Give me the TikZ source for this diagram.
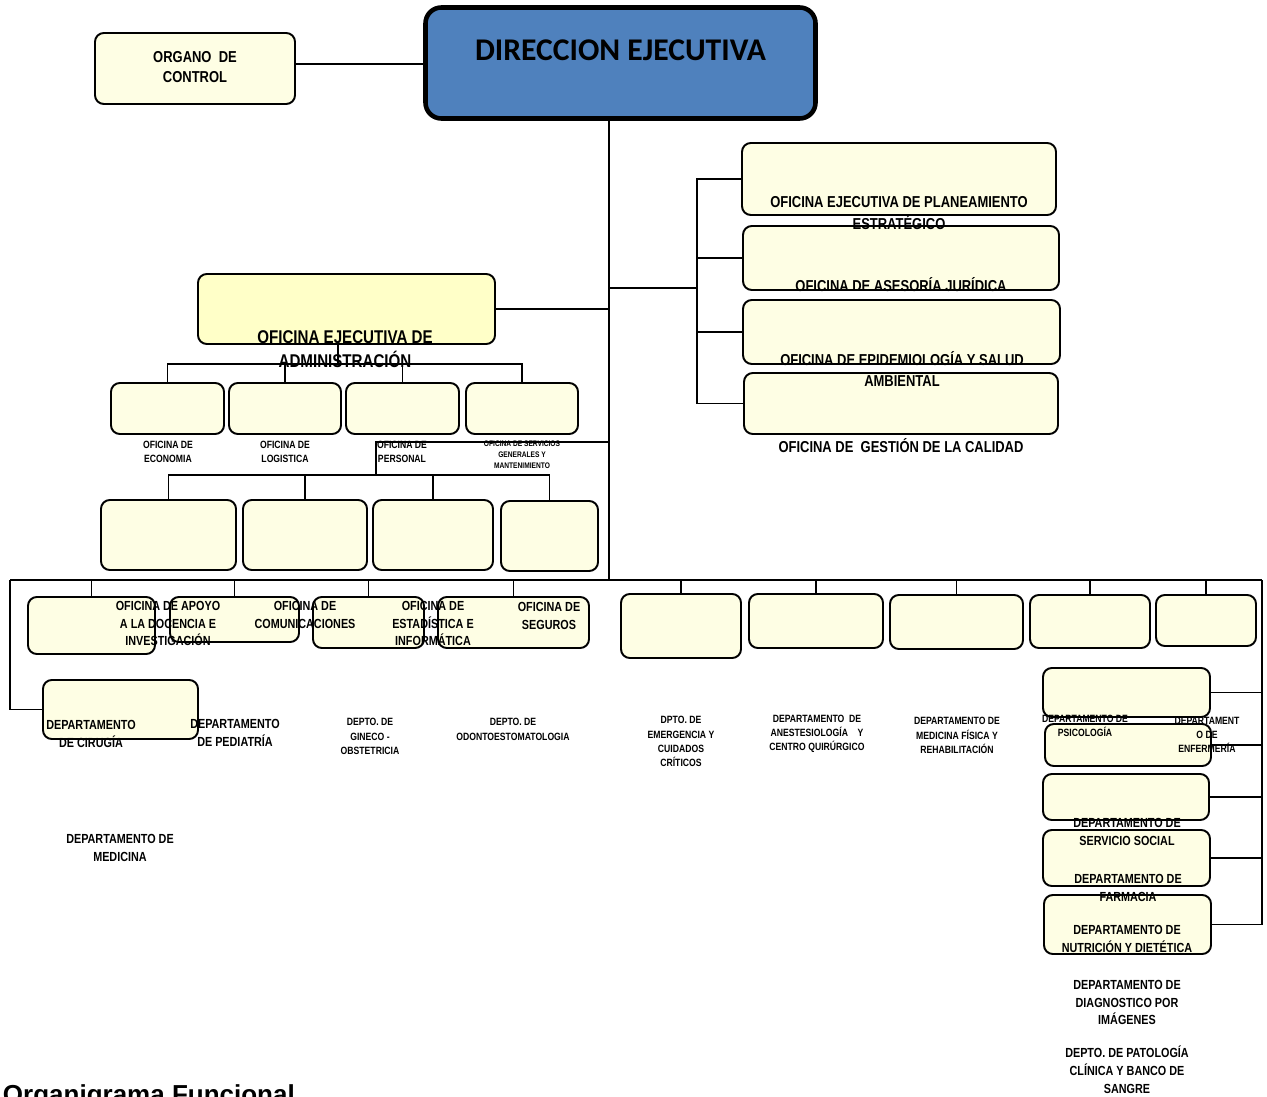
\documentclass[tikz,border=0pt]{standalone}
\usepackage{fontspec}
\setmainfont{Liberation Sans}
\newfontfamily\narrowsf[FakeStretch=0.82]{Liberation Sans}
\newfontfamily\calibri{Carlito}
\usetikzlibrary{positioning}
\newdimen\px \px=0.02cm
\definecolor{cream}{HTML}{FEFEE4}
\definecolor{paleyel}{HTML}{FFFFC8}
\definecolor{dirblue}{HTML}{4F81BD}
\tikzset{
  box/.style={draw, line width=1.1pt, rounded corners=5pt, fill=cream, inner sep=0pt},
  lbl/.style 2 args={font=\narrowsf\bfseries\fontsize{#1}{#2}\selectfont, align=center, inner sep=0pt},
}

\begin{document}
\begin{tikzpicture}[x=0.02cm, y=-0.02cm, line width=1.1pt]
  \useasboundingbox (0,0) rectangle (1267,1097);

  % direccion y organo de control
  \node[box, minimum width=200\px, minimum height=71\px] (oc) at (195,68.5) {};
  \node[box, fill=dirblue, line width=2.6pt, rounded corners=9pt, minimum width=390\px, minimum height=111\px] (dir) at (620.5,63) {};
  \coordinate (trunk) at (609,580);
  \coordinate (bl) at (10,580);
  \coordinate (br) at (1262,580);
  \draw ([yshift=4.5\px]oc.east) -- ([yshift=4.5\px]oc.east -| dir.west);
  \draw (trunk |- dir.south) -- (trunk);
  \draw (bl) -- (br);

  % oficinas de asesoria
  \node[box, minimum width=314\px, minimum height=72\px] (pe) at (899,179) {};
  \node[box, minimum width=316\px, minimum height=64\px] (aj) at (901,258) {};
  \node[box, minimum width=317\px, minimum height=64\px] (ep) at (901.5,332) {};
  \node[box, minimum width=314\px, minimum height=61\px] (gc) at (901,403.5) {};
  \coordinate (rb) at (697,288);
  \draw (pe.west) -- (pe.west -| rb) -- (gc.west -| rb) -- (gc.west);
  \draw (aj.west) -- (aj.west -| rb);
  \draw (ep.west) -- (ep.west -| rb);
  \draw (rb) -- (rb -| trunk);

  % administracion
  \node[box, fill=paleyel, minimum width=297\px, minimum height=70\px] (oea) at (346.5,309) {};
  \node[box, minimum width=113\px, minimum height=51\px] (e1) at (167.5,408.5) {};
  \node[box, minimum width=112\px, minimum height=51\px] (e2) at (285,408.5) {};
  \node[box, minimum width=113\px, minimum height=51\px] (e3) at (402.5,408.5) {};
  \node[box, minimum width=112\px, minimum height=51\px] (e4) at (522,408.5) {};
  \coordinate (ab) at (338,364);
  \draw (oea.east) -- (oea.east -| trunk);
  \draw (ab |- oea.south) -- (ab);
  \draw (e1.north) -- (e1.north |- ab) -- (e4.north |- ab) -- (e4.north);
  \draw (e2.north) -- (e2.north |- ab);
  \draw (e3.north) -- (e3.north |- ab);

  \node[box, minimum width=135\px, minimum height=70\px] (f1) at (168.5,535) {};
  \node[box, minimum width=124\px, minimum height=70\px] (f2) at (305,535) {};
  \node[box, minimum width=120\px, minimum height=70\px] (f3) at (433,535) {};
  \node[box, minimum width=97\px, minimum height=70\px] (f4) at (549.5,536) {};
  \coordinate (pj) at (376,442);
  \coordinate (pb) at (376,475);
  \draw (pj -| trunk) -- (pj) -- (pb);
  \draw (f1.north) -- (f1.north |- pb) -- (f4.north |- pb) -- (f4.north);
  \draw (f2.north) -- (f2.north |- pb);
  \draw (f3.north) -- (f3.north |- pb);

  % linea de departamentos
  \node[box, minimum width=127\px, minimum height=57\px] (g1) at (91.5,625.5) {};
  \node[box, minimum width=129\px, minimum height=45\px] (g2) at (234.5,619.5) {};
  \node[box, minimum width=111\px, minimum height=51\px] (g3) at (368.5,622.5) {};
  \node[box, minimum width=151\px, minimum height=51\px] (g4) at (513.5,622.5) {};
  \node[box, minimum width=120\px, minimum height=64\px] (g5) at (681,626) {};
  \node[box, minimum width=134\px, minimum height=54\px] (g6) at (816,621) {};
  \node[box, minimum width=133\px, minimum height=54\px] (g7) at (956.5,622) {};
  \node[box, minimum width=120\px, minimum height=53\px] (g8) at (1090,621.5) {};
  \node[box, minimum width=100\px, minimum height=51\px] (g9) at (1206,620.5) {};
  \foreach \n in {g1,g2,g3,g4,g5,g6,g7,g8,g9}
    \draw (\n.north) -- (\n.north |- bl);

  \node[box, minimum width=155\px, minimum height=59\px] (cir) at (120.5,709.5) {};
  \draw (bl) |- (cir.west);

  \node[box, minimum width=167\px, minimum height=49\px] (h1) at (1126.5,692.5) {};
  \node[box, minimum width=166\px, minimum height=42\px] (h2) at (1128,745) {};
  \node[box, minimum width=166\px, minimum height=46\px] (h3) at (1126,797) {};
  \node[box, minimum width=167\px, minimum height=56\px] (h4) at (1126.5,858) {};
  \node[box, minimum width=167\px, minimum height=59\px] (h5) at (1127.5,924.5) {};
  \draw (br) |- (h5.east);
  \foreach \n in {h1,h2,h3,h4}
    \draw (\n.east) -- (\n.east -| br);

  % textos
  \node[font=\calibri\bfseries\fontsize{18}{22}\selectfont, inner sep=0pt] (dirt) at (620.5,50) {DIRECCION EJECUTIVA};
  \node[lbl={9}{11.3}] (oct) at (195,67) {ORGANO\ \ DE\\CONTROL};
  \node[lbl={9}{12.5}] (pet) at (899,213) {OFICINA EJECUTIVA DE PLANEAMIENTO\\ESTRATÉGICO};
  \node[lbl={9}{12.5}] (ajt) at (901,285) {OFICINA DE ASESORÍA JURÍDICA};
  \node[lbl={9}{12.5}] (ept) at (902,369) {OFICINA DE EPIDEMIOLOGÍA Y SALUD\\AMBIENTAL};
  \node[lbl={9}{12.5}] (gct) at (901,446) {OFICINA DE\ \ GESTIÓN DE LA CALIDAD};
  \node[lbl={10.5}{13.6}] (oeat) at (345,349) {OFICINA EJECUTIVA DE\\ADMINISTRACIÓN};

  \node[lbl={6}{7.9}] (e1t) at (168,452) {OFICINA DE\\ECONOMIA};
  \node[lbl={6}{7.9}] (e2t) at (285,452) {OFICINA DE\\LOGISTICA};
  \node[lbl={6}{7.9}] (e3t) at (402,452) {OFICINA DE\\PERSONAL};
  \node[lbl={4.6}{6.2}] (e4t) at (522,454.5) {OFICINA DE SERVICIOS\\GENERALES Y\\MANTENIMIENTO};

  \node[lbl={7.5}{10}] (g1t) at (168,623.5) {OFICINA DE APOYO\\A LA DOCENCIA E\\INVESTIGACIÓN};
  \node[lbl={7.5}{10}] (g2t) at (305,615) {OFICINA DE\\COMUNICACIONES};
  \node[lbl={7.5}{10}] (g3t) at (433,623.5) {OFICINA DE\\ESTADÍSTICA E\\INFORMÁTICA};
  \node[lbl={7.5}{10}] (g4t) at (549,616) {OFICINA DE\\SEGUROS};

  \node[lbl={7.5}{10.2}] (cirt) at (91,734) {DEPARTAMENTO\\DE CIRUGÍA};
  \node[lbl={7.5}{10.2}] (pedt) at (235,733) {DEPARTAMENTO\\DE PEDIATRÍA};
  \node[lbl={6}{8.2}] (gint) at (370,736.5) {DEPTO. DE\\GINECO -\\OBSTETRICIA};
  \node[lbl={6}{8.2}] (odot) at (513,729.5) {DEPTO. DE\\ODONTOESTOMATOLOGIA};
  \node[lbl={6}{8.1}] (emet) at (681,741.5) {DPTO. DE\\EMERGENCIA Y\\CUIDADOS\\CRÍTICOS};
  \node[lbl={6}{8}] (anet) at (817,734) {DEPARTAMENTO\ \ DE\\ANESTESIOLOGÍA\ \ \ \ Y\\CENTRO QUIRÚRGICO};
  \node[lbl={6}{8.2}] (mft) at (957,735.5) {DEPARTAMENTO DE\\MEDICINA FÍSICA Y\\REHABILITACIÓN};
  \node[lbl={7.5}{10.2}] (medt) at (120,848) {DEPARTAMENTO DE\\MEDICINA};

  \node[lbl={6}{7.9}] (psit) at (1085,726) {DEPARTAMENTO DE\\PSICOLOGÍA};
  \node[lbl={6}{7.9}] (enft) at (1207,735) {DEPARTAMENT\\O DE\\ENFERMERÍA};
  \node[lbl={7.5}{10.2}] (sst) at (1127,832) {DEPARTAMENTO DE\\SERVICIO SOCIAL};
  \node[lbl={7.5}{10.2}] (fart) at (1128,888) {DEPARTAMENTO DE\\FARMACIA};
  \node[lbl={7.5}{10.2}] (nutt) at (1127,938.5) {DEPARTAMENTO DE\\NUTRICIÓN Y DIETÉTICA};
  \node[lbl={7.5}{10.2}] (dit) at (1127,1002.5) {DEPARTAMENTO DE\\DIAGNOSTICO POR\\IMÁGENES};
  \node[lbl={7.5}{10.2}] (patt) at (1127,1070) {DEPTO. DE PATOLOGÍA\\CLÍNICA Y BANCO DE\\SANGRE};

  \node[font=\bfseries\fontsize{14.8}{18}\selectfont, anchor=base west, inner sep=0pt] (title) at (2,1103) {Organigrama Funcional};
\end{tikzpicture}
\end{document}
